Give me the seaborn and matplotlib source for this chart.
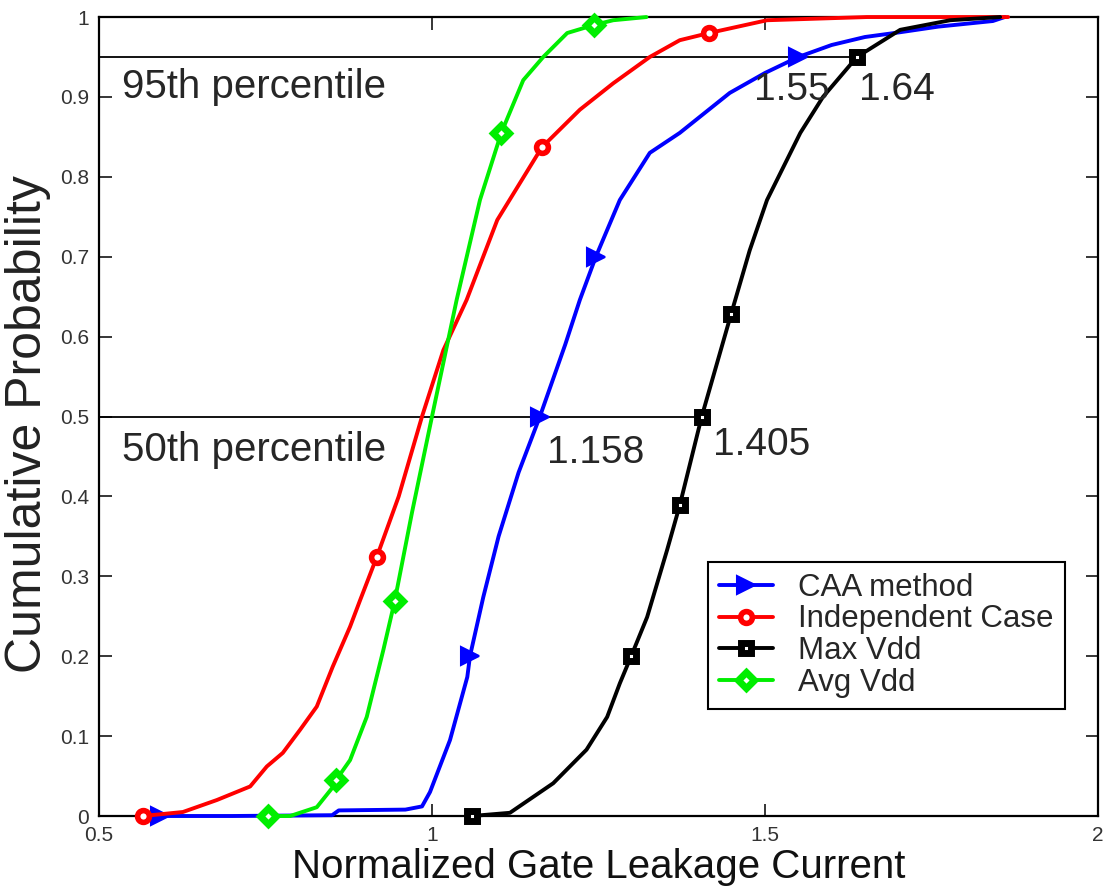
import numpy as np
import pandas as pd
import matplotlib
matplotlib.use("Agg")
import matplotlib.pyplot as plt
import seaborn as sns

# ---------------- data ----------------
caa_x = [0.592, 0.70, 0.85, 0.86, 0.96, 0.985, 0.997, 1.027, 1.053, 1.057, 1.077, 1.10, 1.13,
         1.162, 1.20, 1.222, 1.246, 1.282, 1.327, 1.372, 1.402, 1.447, 1.50, 1.55, 1.60,
         1.65, 1.703, 1.76, 1.842, 1.86]
caa_y = [0.0, 0.0, 0.001, 0.007, 0.008, 0.012, 0.03, 0.095, 0.174, 0.2, 0.274, 0.35, 0.43,
         0.5, 0.59, 0.646, 0.70, 0.771, 0.83, 0.855, 0.875, 0.905, 0.93, 0.95, 0.965,
         0.975, 0.981, 0.988, 0.995, 1.0]
caa_marks = [0, 9, 13, 16, 23]

ind_x = [0.566, 0.626, 0.677, 0.727, 0.752, 0.776, 0.802, 0.827, 0.851, 0.877, 0.892, 0.917,
         0.95, 0.985, 1.017, 1.052, 1.098, 1.165, 1.222, 1.272, 1.327, 1.372, 1.416, 1.503,
         1.653, 1.865]
ind_y = [0.0, 0.005, 0.02, 0.037, 0.062, 0.079, 0.108, 0.137, 0.187, 0.237, 0.27, 0.324,
         0.40, 0.5, 0.583, 0.646, 0.746, 0.837, 0.884, 0.917, 0.95, 0.971, 0.98, 0.996,
         1.0, 1.0]
ind_marks = [0, 11, 17, 22]

max_x = [1.06, 1.117, 1.182, 1.232, 1.263, 1.282, 1.299, 1.323, 1.353, 1.372, 1.405, 1.449,
         1.477, 1.503, 1.553, 1.587, 1.638, 1.703, 1.778, 1.853]
max_y = [0.0, 0.004, 0.041, 0.083, 0.124, 0.166, 0.2, 0.249, 0.333, 0.389, 0.5, 0.628,
         0.708, 0.771, 0.855, 0.9, 0.95, 0.984, 0.996, 1.0]
max_marks = [0, 6, 9, 10, 11, 16]

avg_x = [0.754, 0.787, 0.827, 0.851, 0.856, 0.877, 0.902, 0.927, 0.944, 0.97, 1.0, 1.037,
         1.072, 1.104, 1.137, 1.167, 1.203, 1.243, 1.272, 1.322]
avg_y = [0.0, 0.0, 0.011, 0.036, 0.045, 0.07, 0.124, 0.208, 0.269, 0.38, 0.5, 0.646,
         0.771, 0.855, 0.921, 0.95, 0.98, 0.99, 0.996, 1.0]
avg_marks = [0, 4, 8, 13, 17]

series_names = ["CAA method", "Independent Case", "Max Vdd", "Avg Vdd"]

percentile_levels = [0.95, 0.5]
percentile_ends = [1.64, 1.405]
percentile_labels = ["95th percentile", "50th percentile"]

value_labels = ["1.55", "1.64", "1.158", "1.405"]

x_ticks = [0.5, 1.0, 1.5, 2.0]
x_tick_labels = ["0.5", "1", "1.5", "2"]
y_ticks = [0, 0.1, 0.2, 0.3, 0.4, 0.5, 0.6, 0.7, 0.8, 0.9, 1.0]
y_tick_labels = ["0", "0.1", "0.2", "0.3", "0.4", "0.5", "0.6", "0.7", "0.8", "0.9", "1"]

# ---------------- style ----------------
sns.set_style("ticks")
plt.rcParams["font.family"] = ["Liberation Sans", "DejaVu Sans"]

fig = plt.figure(figsize=(11.06, 8.92), dpi=100)
ax = fig.add_axes([0.0895, 0.0852, 0.9033, 0.8957])

styles = [
    dict(color="#0000ff", marker=">", ms=13, mfc="#0000ff", mec="#0000ff", mew=1.5),
    dict(color="#ff0000", marker="o", ms=8.5, mfc="white", mec="#ff0000", mew=4.0),
    dict(color="#000000", marker="s", ms=7, mfc="white", mec="#000000", mew=5.0),
    dict(color="#00ee00", marker="D", ms=8, mfc="white", mec="#00ee00", mew=5.0),
]
all_x = [caa_x, ind_x, max_x, avg_x]
all_y = [caa_y, ind_y, max_y, avg_y]
all_marks = [caa_marks, ind_marks, max_marks, avg_marks]

for name, xs, ys, mk, st in zip(series_names, all_x, all_y, all_marks, styles):
    df = pd.DataFrame({"x": xs, "y": ys})
    sns.lineplot(data=df, x="x", y="y", ax=ax, sort=False, estimator=None,
                 label=name, lw=2.8, markevery=mk, clip_on=False, zorder=3, **st)

# percentile lines
for lvl, end in zip(percentile_levels, percentile_ends):
    ax.plot([0.5, end], [lvl, lvl], color="black", lw=1.3, zorder=2)

# text annotations
ax.text(0.535, 0.899, percentile_labels[0], fontsize=29, va="baseline", ha="left")
ax.text(0.535, 0.444, percentile_labels[1], fontsize=29, va="baseline", ha="left")
ax.text(1.484, 0.896, value_labels[0], fontsize=28, va="baseline", ha="left")
ax.text(1.641, 0.896, value_labels[1], fontsize=28, va="baseline", ha="left")
ax.text(1.173, 0.442, value_labels[2], fontsize=28, va="baseline", ha="left")
ax.text(1.422, 0.452, value_labels[3], fontsize=28, va="baseline", ha="left")

# axes
ax.set_xlim(0.5, 2.0)
ax.set_ylim(0.0, 1.0)
ax.set_xticks(x_ticks)
ax.set_xticklabels(x_tick_labels)
ax.set_yticks(y_ticks)
ax.set_yticklabels(y_tick_labels)
ax.tick_params(direction="in", length=9, width=1.3, top=True, right=True,
               labelsize=15, labelcolor="#333333", pad=7)
for sp in ax.spines.values():
    sp.set_visible(True)
    sp.set_linewidth(1.6)
    sp.set_color("black")

ax.set_xlabel("Normalized Gate Leakage Current", fontsize=29)
ax.set_ylabel("Cumulative Probability", fontsize=36)
ax.xaxis.set_label_coords(0.5, -0.040)
ax.yaxis.set_label_coords(-0.048, 0.49)
ax.yaxis.label.set_color("#222222")
ax.xaxis.label.set_color("#111111")

leg = ax.legend(loc="upper left", bbox_to_anchor=(0.640, 0.370),
                bbox_transform=fig.transFigure, borderaxespad=0,
                fontsize=22.5, frameon=True, fancybox=False, framealpha=1,
                edgecolor="black", handlelength=1.75, handletextpad=0.8,
                labelspacing=0.05, borderpad=0.35, numpoints=1)
leg.get_frame().set_linewidth(1.5)
for line in leg.get_lines():
    line.set_markevery([1])

fig.savefig("out.png", dpi=100)
